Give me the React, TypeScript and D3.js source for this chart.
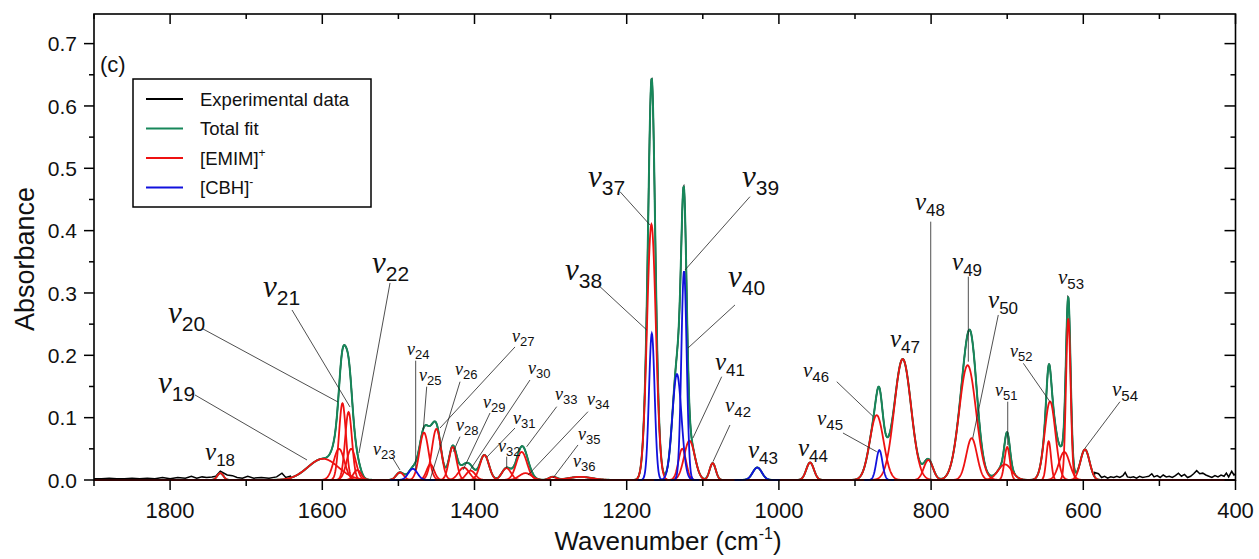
import React from 'react';
import * as d3 from 'd3';

// ---------- data ----------
const X_TICKS = [1800, 1600, 1400, 1200, 1000, 800, 600, 400];
const X_MINOR = [1900, 1700, 1500, 1300, 1100, 900, 700, 500];
const Y_TICKS = [0.0, 0.1, 0.2, 0.3, 0.4, 0.5, 0.6, 0.7];
const Y_MINOR = [0.05, 0.15, 0.25, 0.35, 0.45, 0.55, 0.65];

// [center (cm-1), height, sigma (cm-1)]
const EMIM_PEAKS: [number, number, number][] = [
  [1734, 0.011, 4],
  [1599, 0.034, 20],
  [1578, 0.05, 7],
  [1573.5, 0.123, 4.5],
  [1565.5, 0.109, 4.5],
  [1562, 0.05, 6],
  [1554, 0.016, 5],
  [1498, 0.012, 5],
  [1466.4, 0.076, 6],
  [1458, 0.025, 5],
  [1450, 0.082, 6],
  [1428.6, 0.053, 5],
  [1414, 0.02, 7],
  [1405, 0.015, 6],
  [1387, 0.04, 6],
  [1358, 0.019, 6],
  [1338, 0.045, 7],
  [1333, 0.011, 8],
  [1297, 0.005, 5],
  [1261, 0.005, 15],
  [1167.5, 0.41, 5.8],
  [1127, 0.05, 5],
  [1117.5, 0.063, 7],
  [1087, 0.027, 4],
  [959, 0.028, 5],
  [871.5, 0.104, 9],
  [837.3, 0.194, 11],
  [803.6, 0.032, 6],
  [752, 0.184, 11],
  [746.7, 0.067, 7],
  [703, 0.025, 9],
  [700, 0.053, 3.5],
  [645.5, 0.062, 3],
  [643.7, 0.126, 7],
  [625, 0.045, 7],
  [619.7, 0.259, 3],
  [597.8, 0.049, 6],
];

const CBH_PEAKS: [number, number, number][] = [
  [1481, 0.018, 6],
  [1167, 0.235, 3.7],
  [1134, 0.17, 6],
  [1124.7, 0.335, 3.5],
  [1028.4, 0.02, 6],
  [868, 0.048, 4],
];

// experimental data visible in the baseline regions [wavenumber, absorbance]
const EXP_LEFT: [number, number][] = [
  [1900, 0.002], [1890, 0.002], [1880, 0.003], [1870, 0.002], [1860, 0.002], [1850, 0.003],
  [1840, 0.002], [1830, 0.003], [1820, 0.002], [1810, 0.004], [1800, 0.002], [1790, 0.004],
  [1780, 0.003], [1772, 0.006], [1765, 0.003], [1758, 0.005], [1752, 0.004], [1745, 0.005],
  [1740, 0.006], [1734, 0.014], [1725, 0.008], [1718, 0.007], [1712, 0.004], [1705, 0.003],
  [1698, 0.006], [1690, 0.003], [1680, 0.004], [1670, 0.003], [1660, 0.005], [1653, 0.011],
  [1648, 0.004], [1642, 0.006],
];
const EXP_RIGHT: [number, number][] = [
  [585, 0.012], [580, 0.01], [576, 0.004], [572, 0.006], [568, 0.003], [564, 0.005], [560, 0.004],
  [556, 0.006], [552, 0.004], [548, 0.007], [545, 0.012], [542, 0.005], [538, 0.004], [534, 0.005],
  [530, 0.003], [526, 0.006], [522, 0.004], [518, 0.005], [514, 0.006], [510, 0.01], [507, 0.005],
  [503, 0.007], [499, 0.004], [495, 0.008], [491, 0.005], [487, 0.006], [483, 0.004], [479, 0.007],
  [475, 0.011], [471, 0.006], [467, 0.009], [463, 0.004], [459, 0.006], [455, 0.01], [451, 0.015],
  [447, 0.01], [443, 0.011], [439, 0.008], [435, 0.006], [431, 0.004], [427, 0.007], [423, 0.005],
  [419, 0.008], [415, 0.006], [412, 0.011], [409, 0.005], [405, 0.014], [402, 0.008], [400, 0.01],
];

type Lab = { n: string; wn: number; a: number; s: 'xl' | 'l' | 'm' | 's'; line?: [number, number, number, number] };
const LABELS: Lab[] = [
  { n: '18', wn: 1754.1, a: 0.032, s: 'l' },
  { n: '19', wn: 1815.9, a: 0.1396, s: 'xl', line: [1767.3, 0.1364, 1620.1, 0.0321] },
  { n: '20', wn: 1802.8, a: 0.2519, s: 'xl', line: [1756.8, 0.2423, 1579.4, 0.1251] },
  { n: '21', wn: 1677.9, a: 0.2936, s: 'xl', line: [1639.8, 0.2727, 1563.6, 0.1171] },
  { n: '22', wn: 1534.7, a: 0.3321, s: 'xl', line: [1511, 0.3161, 1551.8, 0.0433] },
  { n: '23', wn: 1533.4, a: 0.0401, s: 's', line: [1508.4, 0.0369, 1497.9, 0.016] },
  { n: '24', wn: 1488.7, a: 0.2005, s: 's', line: [1477.3, 0.1914, 1477.3, 0.016] },
  { n: '25', wn: 1472.9, a: 0.1588, s: 's', line: [1462.8, 0.1497, 1467.3, 0.0802] },
  { n: '26', wn: 1425.6, a: 0.1685, s: 's', line: [1419, 0.1577, 1458.5, 0.0] },
  { n: '27', wn: 1350.7, a: 0.2214, s: 's', line: [1346.8, 0.2134, 1445.3, 0.0834] },
  { n: '28', wn: 1424.3, a: 0.0786, s: 's', line: [1419, 0.0695, 1427.9, 0.0454] },
  { n: '29', wn: 1388.8, a: 0.1155, s: 's', line: [1379.6, 0.1075, 1415.1, 0.016] },
  { n: '30', wn: 1329.7, a: 0.1701, s: 's', line: [1327.1, 0.1604, 1405.9, 0.016] },
  { n: '31', wn: 1349.4, a: 0.0898, s: 's', line: [1346.8, 0.0834, 1383.6, 0.0369] },
  { n: '32', wn: 1369.1, a: 0.0449, s: 's', line: [1357.7, 0.0374, 1357.7, 0.0193] },
  { n: '33', wn: 1294.2, a: 0.1284, s: 's', line: [1292, 0.1176, 1331.4, 0.0534] },
  { n: '34', wn: 1252.2, a: 0.1203, s: 's', line: [1250.9, 0.1096, 1329.7, 0.008] },
  { n: '35', wn: 1264, a: 0.0642, s: 's', line: [1264, 0.0562, 1296.8, 0.0032] },
  { n: '36', wn: 1270.6, a: 0.0209, s: 's' },
  { n: '37', wn: 1250.9, a: 0.4701, s: 'xl', line: [1208.8, 0.4625, 1169.4, 0.4091] },
  { n: '38', wn: 1281.1, a: 0.3209, s: 'xl', line: [1235.1, 0.3101, 1173.7, 0.2407] },
  { n: '39', wn: 1048.5, a: 0.4701, s: 'xl', line: [1038, 0.4545, 1123.4, 0.3369] },
  { n: '40', wn: 1066.9, a: 0.3096, s: 'xl', line: [1057.7, 0.2808, 1119.4, 0.2118] },
  { n: '41', wn: 1084, a: 0.1765, s: 'l', line: [1075.2, 0.1657, 1112.9, 0.0674] },
  { n: '42', wn: 1070.8, a: 0.1091, s: 'm', line: [1064.3, 0.0882, 1086.6, 0.0294] },
  { n: '43', wn: 1040.6, a: 0.0353, s: 'l' },
  { n: '44', wn: 974.9, a: 0.0385, s: 'l' },
  { n: '45', wn: 949.9, a: 0.0882, s: 'm', line: [915.8, 0.0754, 871.5, 0.0454] },
  { n: '46', wn: 968.3, a: 0.1653, s: 'm', line: [924, 0.1577, 875.9, 0.1016] },
  { n: '47', wn: 854, a: 0.2134, s: 'l' },
  { n: '48', wn: 821.2, a: 0.4332, s: 'l', line: [800.5, 0.4144, 800.5, 0.0] },
  { n: '49', wn: 772.5, a: 0.3369, s: 'l', line: [751.1, 0.3262, 751.1, 0.1898] },
  { n: '50', wn: 725.2, a: 0.276, s: 'l', line: [711.7, 0.2647, 745.3, 0.0669] },
  { n: '51', wn: 716, a: 0.1348, s: 's', line: [699.3, 0.1256, 699.3, 0.0562] },
  { n: '52', wn: 696.3, a: 0.1973, s: 's', line: [678.8, 0.1872, 643.8, 0.1256] },
  { n: '53', wn: 633.2, a: 0.3145, s: 'm' },
  { n: '54', wn: 562.3, a: 0.1348, s: 'm', line: [551.8, 0.1256, 597.8, 0.0509] },
];

const LEGEND = [
  { name: 'Experimental data', sup: '', color: '#000000' },
  { name: 'Total fit', sup: '', color: '#17875a' },
  { name: '[EMIM]', sup: '+', color: '#ee1111' },
  { name: '[CBH]', sup: '-', color: '#1111dd' },
];

// ---------- layout ----------
const W = 1259;
const H = 559;
const SANS = '"Liberation Sans", Arial, sans-serif';
const SERIF = '"Liberation Serif", "Times New Roman", serif';
const GREEN = '#17875a';
const RED = '#ee1111';
const BLUE = '#1111dd';

const SIZES = {
  xl: { nu: 31, sub: 21, dy: 8 },
  l: { nu: 25, sub: 17, dy: 6 },
  m: { nu: 21, sub: 15, dy: 5 },
  s: { nu: 18, sub: 13, dy: 4 },
};

const gauss = (w: number, p: [number, number, number]) => p[1] * Math.exp(-((w - p[0]) ** 2) / (2 * p[2] * p[2]));

export default function App() {
  const x = d3.scaleLinear().domain([1900, 400]).range([94, 1235.5]);
  const y = d3.scaleLinear().domain([0, 0.7475]).range([480, 14]);
  const line = d3
    .line<[number, number]>()
    .x((d) => x(d[0]))
    .y((d) => y(d[1]));

  const allPeaks = [...EMIM_PEAKS, ...CBH_PEAKS];
  const grid = d3.range(1900, 399.9, -0.5);
  const total: [number, number][] = grid.map((w) => [w, d3.sum(allPeaks, (p) => gauss(w, p))]);

  const comp = (p: [number, number, number]) => {
    const step = Math.min(0.5, p[2] / 8);
    const pts: [number, number][] = d3.range(p[0] + 5 * p[2], p[0] - 5 * p[2], -step).map((w) => [w, gauss(w, p)]);
    return line(pts) || '';
  };

  const mid = total.filter((d) => d[0] < 1642 && d[0] > 585);
  const experimental: [number, number][] = [...EXP_LEFT, ...mid, ...EXP_RIGHT];

  const [x0, x1] = x.range();
  const [yb, yt] = y.range();

  return (
    <svg width={W} height={H} style={{ position: 'absolute', left: 0, top: 0, background: '#fff' }} fontFamily={SANS}>
      <rect x={0} y={0} width={W} height={H} fill="#fff" />
      {/* curves */}
      <path d={line(experimental) || ''} fill="none" stroke="#000" strokeWidth={1.5} />
      <path d={line(total) || ''} fill="none" stroke={GREEN} strokeWidth={2} strokeLinejoin="round" />
      <path d={line([[1900, 0], [400, 0]]) || ''} fill="none" stroke={RED} strokeWidth={2.2} />
      {EMIM_PEAKS.map((p, i) => (
        <path key={'r' + i} d={comp(p)} fill="none" stroke={RED} strokeWidth={1.8} />
      ))}
      {CBH_PEAKS.map((p, i) => (
        <path key={'b' + i} d={comp(p)} fill="none" stroke={BLUE} strokeWidth={1.8} />
      ))}

      {/* leader lines & labels */}
      {LABELS.filter((l) => l.line).map((l, i) => (
        <line
          key={'ll' + i}
          x1={x(l.line![0])}
          y1={y(l.line![1])}
          x2={x(l.line![2])}
          y2={y(l.line![3])}
          stroke="#222"
          strokeWidth={0.8}
        />
      ))}
      {LABELS.map((l, i) => {
        const s = SIZES[l.s];
        return (
          <text key={'lb' + i} x={x(l.wn)} y={y(l.a)} fill="#111">
            <tspan fontFamily={SERIF} fontStyle="italic" fontSize={s.nu}>
              ν
            </tspan>
            <tspan fontFamily={SANS} fontSize={s.sub} dy={s.dy}>
              {l.n}
            </tspan>
          </text>
        );
      })}

      {/* frame */}
      <rect x={x0} y={yt} width={x1 - x0} height={yb - yt} fill="none" stroke="#000" strokeWidth={1.6} />
      {/* x ticks */}
      {X_TICKS.map((t) => (
        <g key={'xt' + t}>
          <line x1={x(t)} x2={x(t)} y1={yb} y2={yb + 10} stroke="#000" strokeWidth={1.5} />
          <line x1={x(t)} x2={x(t)} y1={yt} y2={yt + 10} stroke="#000" strokeWidth={1.5} />
          <text x={x(t)} y={518} textAnchor="middle" fontSize={22} fill="#111">
            {t}
          </text>
        </g>
      ))}
      {X_MINOR.map((t) => (
        <g key={'xm' + t}>
          <line x1={x(t)} x2={x(t)} y1={yb} y2={yb + 6} stroke="#000" strokeWidth={1.5} />
          <line x1={x(t)} x2={x(t)} y1={yt} y2={yt + 5} stroke="#000" strokeWidth={1.5} />
        </g>
      ))}
      {/* y ticks */}
      {Y_TICKS.map((t) => (
        <g key={'yt' + t}>
          <line x1={x0 - 10} x2={x0} y1={y(t)} y2={y(t)} stroke="#000" strokeWidth={1.5} />
          <line x1={x1 - 11} x2={x1} y1={y(t)} y2={y(t)} stroke="#000" strokeWidth={1.5} />
          <text x={77} y={y(t)} dy="0.36em" textAnchor="end" fontSize={21} fill="#111">
            {t.toFixed(1)}
          </text>
        </g>
      ))}
      {Y_MINOR.map((t) => (
        <g key={'ym' + t}>
          <line x1={x0 - 5} x2={x0} y1={y(t)} y2={y(t)} stroke="#000" strokeWidth={1.5} />
          <line x1={x1 - 5} x2={x1} y1={y(t)} y2={y(t)} stroke="#000" strokeWidth={1.5} />
        </g>
      ))}

      {/* axis titles */}
      <text x={668} y={550} textAnchor="middle" fontSize={26} fill="#111">
        Wavenumber (cm
        <tspan fontSize={16} dy={-11}>
          -1
        </tspan>
        <tspan dy={11}>)</tspan>
      </text>
      <text transform="translate(34,259) rotate(-90)" textAnchor="middle" fontSize={27} fill="#111">
        Absorbance
      </text>
      <text x={100} y={72} fontSize={22} fill="#111">
        (c)
      </text>

      {/* legend */}
      <rect x={133} y={79} width={238} height={128} fill="#fff" stroke="#000" strokeWidth={1.5} />
      {LEGEND.map((l, i) => {
        const cy = 99 + i * 29.5;
        return (
          <g key={'lg' + i}>
            <line x1={146} x2={183} y1={cy} y2={cy} stroke={l.color} strokeWidth={2} />
            <text x={200} y={cy} dy="0.36em" fontSize={18.5} fill="#111">
              {l.name}
              {l.sup && (
                <tspan fontSize={12} dy={-8}>
                  {l.sup}
                </tspan>
              )}
            </text>
          </g>
        );
      })}
    </svg>
  );
}
